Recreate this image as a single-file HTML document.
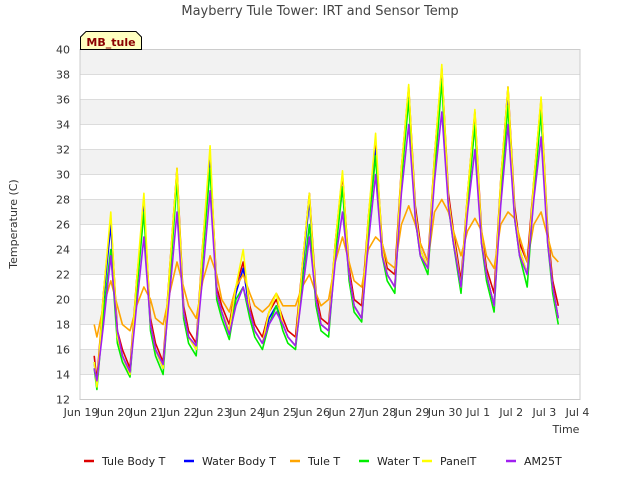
<!DOCTYPE html>
<html><head><meta charset="utf-8"><style>
body{margin:0;background:#fff;font-family:"Liberation Sans","DejaVu Sans",sans-serif}
svg text{font-family:"DejaVu Sans","Liberation Sans",sans-serif}
</style></head><body>
<svg id="chart" width="640" height="480">
<text x="320" y="15" text-anchor="middle" font-size="13" fill="#444">Mayberry Tule Tower: IRT and Sensor Temp</text>
<g id="grid"></g><g id="series"></g><g id="axes"></g>
<g>
<path d="M80.5,49.5 L80.5,37 L86,31.5 L136,31.5 L141.5,37 L141.5,49.5 Z" fill="#ffffc0" stroke="#000" stroke-width="1"/>
<text x="111" y="46" text-anchor="middle" font-size="11" font-weight="bold" fill="#8b0000">MB_tule</text></g>
<text transform="translate(17,224) rotate(-90)" text-anchor="middle" font-size="11" fill="#333">Temperature (C)</text>
<text x="566" y="433" text-anchor="middle" font-size="11" fill="#333">Time</text>
<g id="legend"></g>
</svg>
<script>
const seriesNames=["Tule Body T","Water Body T","Tule T","Water T","PanelT","AM25T"];
const seriesColors=["#dd0000","#0000ff","#ffa500","#00ee00","#ffff00","#a020f0"];
const yTicks=[12,14,16,18,20,22,24,26,28,30,32,34,36,38,40];
const xTickLabels=["Jun 19","Jun 20","Jun 21","Jun 22","Jun 23","Jun 24","Jun 25","Jun 26","Jun 27","Jun 28","Jun 29","Jun 30","Jul 1","Jul 2","Jul 3","Jul 4"];
const tuleBody=[15.5, 13.5,20.5,26.5,17.5,16, 14.5,21.5,27.5,18.5,16.5, 15,22.5,30.5,19.5,17.5, 16.5,24.5,31.5,21,19.5, 18,21,23,19.5,18, 17,19,20,18.5,17.5, 17,22.5,28.5,20.5,18.5, 18,24.5,30,22.5,20, 19.5,26.5,32.5,24.5,22.5, 22,30.5,37,27.5,24.5, 23,31.5,38.5,28.5,25.5, 21.5,28.5,35,25.5,22.5, 20.5,29.5,37,27.5,24.5, 23,29.5,36,25.5,21.5, 19.5];
const waterBody=[15, 13,20,26,17,15.5, 14,21,27.5,18,16, 14.5,22,30,19,17, 16,24,31.5,20.5,19, 17.5,20.5,22.5,19,17.5, 16.5,18.5,19.5,18,17, 16.3,22,28,20,18, 17.5,24,29,22,19.5, 18.5,26,32,24,22, 21,30,36.5,27,24, 22.5,31,38,28,25, 21,28,34,25,22, 19.5,29,36.5,27,24, 22,29,35,25,21, 18.5];
const tuleT=[18, 17,19.5,21.5,19.5,18, 17.5,19.5,21,20,18.5, 18,20.5,23,21,19.5, 18.5,21.5,23.5,22,20, 19,21,22,20.5,19.5, 19,19.5,20.5,19.5,19.5, 19.5,21,22,20.5,19.5, 20,23,25,23,21.5, 21,24,25,24.5,23, 22.5,26,27.5,26,24.5, 23,27,28,27,25.5, 23.5,25.5,26.5,25.5,23.5, 22.5,26,27,26.5,25, 23,26,27,25,23.5, 23];
const waterT=[14.5, 12.8,19,24,16.5,15, 13.8,20.5,27,17.5,15.5, 14,21.5,29.5,18.5,16.5, 15.5,23.5,30.5,20,18.5, 16.8,20,21,18.5,17, 16,18,19.5,17.5,16.5, 16,21,26,19.5,17.5, 17,23.5,29,21.5,19, 18.2,25.5,31.5,23.5,21.5, 20.5,29.5,36,26.5,23.5, 22,30,37.5,27.5,24.5, 20.5,27.5,34,24.5,21.5, 19,28.5,35.5,26.5,23.5, 21,28.5,35,24.5,20.5, 18];
const panelT=[15, 13,20.5,27,17,15.5, 14,21.5,28.5,18,16, 14.5,22.5,30.5,19,17, 16,24.5,32.3,20.5,19, 17.5,21,24,19,17.5, 16.5,19,20.5,18,17, 16.3,22.5,28.5,20,18, 17.5,24.5,30.3,22,19.5, 18.5,26.5,33.3,24,22, 21,30.5,37.2,27,24, 22.5,31.5,38.8,28,25, 21,28.5,35.2,25,22, 19.5,29.5,37,27,24, 22,29.5,36.2,25,21, 18.5];
const am25t=[14.5, 13.5,18,23.5,17.5,15.5, 14.2,19.5,25,18,16, 14.8,20.5,27,19,17, 16.3,22,28.7,20.5,19, 17.2,19.5,21,19,17.5, 16.5,18,19,18,17, 16.3,20.5,25,20,18, 17.5,23,27,22,19.5, 18.5,24.5,30,23.5,22, 21,28.5,34,26.5,23.5, 22.5,29.5,35,27.5,24.5, 21,27,32,24.5,22, 19.5,27.5,34,26.5,23.5, 22,28,33,24.5,21, 18.5];
const allSeries=[tuleBody,waterBody,tuleT,waterT,panelT,am25t];
const NS="http://www.w3.org/2000/svg";
const L=80,R=580,T=49.5,B=399.5;
const xS=d=>L+1+d*33.1;
const yS=v=>B-(v-12)*(B-T)/28;
function mk(tag,attrs,parent){const e=document.createElementNS(NS,tag);for(const k in attrs)e.setAttribute(k,attrs[k]);parent.appendChild(e);return e;}
// sample times (days since Jun 19)
const times=[0.4];
for(let d=0;d<14;d++){times.push(d+0.48,d+0.68,d+0.9,d+1.1,d+1.25);}
times.push(14.42);
const grid=document.getElementById('grid');
for(let i=0;i<yTicks.length-1;i++){
  if(i%2===1){const r=mk('rect',{x:L,y:yS(yTicks[i+1]),width:R-L,height:yS(yTicks[i])-yS(yTicks[i+1]),fill:'#f2f2f2'},grid);
  
  }
}
yTicks.forEach(v=>{const l=mk('line',{x1:L,x2:R,y1:yS(v),y2:yS(v),stroke:'#dcdcdc'},grid);

});
const axes=document.getElementById('axes');
const fr=mk('rect',{x:L,y:T,width:R-L,height:B-T,fill:'none',stroke:'#ccc'},axes);


yTicks.forEach(v=>{const t=mk('text',{x:L-10,y:yS(v)+4,'text-anchor':'end','font-size':'11',fill:'#333'},axes);t.textContent=v;

});
xTickLabels.forEach((s,i)=>{const t=mk('text',{x:xS(i),y:416,'text-anchor':'middle','font-size':'11',fill:'#333'},axes);t.textContent=s;

});
const sg=document.getElementById('series');
allSeries.forEach((arr,si)=>{
  const pts=arr.map((v,i)=>xS(times[i]).toFixed(1)+','+yS(v).toFixed(1)).join(' ');
  const p=mk('polyline',{points:pts,fill:'none',stroke:seriesColors[si],'stroke-width':'1.6','stroke-linejoin':'round'},sg);
  
  
});
const lg=document.getElementById('legend');
const lx=[84,184,290,359,422,506];
seriesNames.forEach((n,i)=>{
  const g=mk('g',{},lg);
  
  
  mk('line',{x1:lx[i],x2:lx[i]+10,y1:461,y2:461,stroke:seriesColors[i],'stroke-width':'2.5'},g);
  const t=mk('text',{x:lx[i]+18,y:465,'font-size':'11',fill:'#222'},g);t.textContent=n;
});
</script>
</body></html>
